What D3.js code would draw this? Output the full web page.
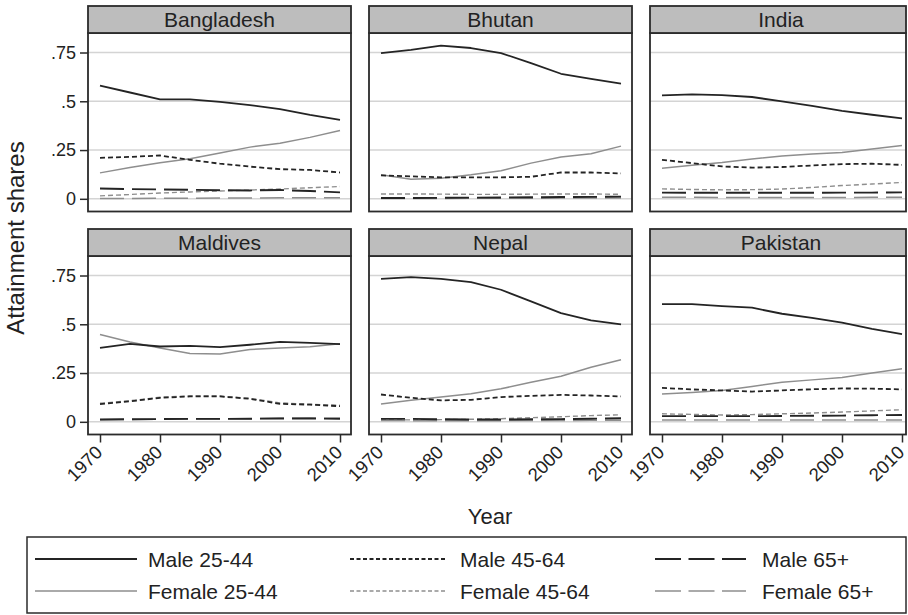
<!DOCTYPE html>
<html>
<head>
<meta charset="utf-8">
<script src="https://cdn.jsdelivr.net/npm/d3@7"></script>
<style>
  body { margin: 0; background: #fff; }
  svg { display: block; font-family: "Liberation Sans", Arial, sans-serif; }
</style>
</head>
<body>
<svg id="chart" width="908" height="615"></svg>
<script>
// Attainment shares by sex and age group, South Asian countries, 1970-2010
const years = [1970, 1975, 1980, 1985, 1990, 1995, 2000, 2005, 2010];
const countries = ["Bangladesh", "Bhutan", "India", "Maldives", "Nepal", "Pakistan"];
const seriesNames = ["Male 25-44", "Male 45-64", "Male 65+", "Female 25-44", "Female 45-64", "Female 65+"];
const xTicks = [1970, 1980, 1990, 2000, 2010];
const yTicks = [0, 0.25, 0.5, 0.75];
const yTickLabels = ["0", ".25", ".5", ".75"];

// one row per country, in the order of `countries`
const male2544 = [
  [0.580, 0.545, 0.510, 0.510, 0.497, 0.480, 0.460, 0.430, 0.405],
  [0.747, 0.764, 0.785, 0.773, 0.747, 0.696, 0.641, 0.615, 0.590],
  [0.530, 0.535, 0.532, 0.522, 0.499, 0.477, 0.451, 0.431, 0.412],
  [0.379, 0.400, 0.386, 0.389, 0.383, 0.395, 0.410, 0.405, 0.398],
  [0.733, 0.742, 0.733, 0.716, 0.677, 0.617, 0.557, 0.520, 0.500],
  [0.603, 0.603, 0.593, 0.585, 0.554, 0.533, 0.508, 0.477, 0.450]
];
const male4564 = [
  [0.210, 0.215, 0.222, 0.200, 0.180, 0.165, 0.152, 0.148, 0.135],
  [0.120, 0.115, 0.110, 0.110, 0.110, 0.113, 0.135, 0.135, 0.130],
  [0.200, 0.183, 0.166, 0.160, 0.163, 0.171, 0.178, 0.180, 0.174],
  [0.091, 0.105, 0.123, 0.130, 0.130, 0.118, 0.092, 0.088, 0.080],
  [0.140, 0.123, 0.110, 0.113, 0.127, 0.133, 0.138, 0.135, 0.130],
  [0.174, 0.166, 0.161, 0.155, 0.161, 0.167, 0.171, 0.170, 0.166]
];
const male65 = [
  [0.053, 0.050, 0.048, 0.046, 0.044, 0.043, 0.045, 0.040, 0.033],
  [0.004, 0.004, 0.005, 0.006, 0.007, 0.008, 0.009, 0.010, 0.011],
  [0.032, 0.031, 0.031, 0.031, 0.031, 0.031, 0.032, 0.032, 0.033],
  [0.012, 0.013, 0.014, 0.015, 0.015, 0.016, 0.017, 0.017, 0.016],
  [0.015, 0.015, 0.013, 0.012, 0.012, 0.013, 0.014, 0.016, 0.018],
  [0.029, 0.029, 0.029, 0.029, 0.030, 0.031, 0.032, 0.034, 0.035]
];
const female2544 = [
  [0.133, 0.160, 0.185, 0.205, 0.235, 0.265, 0.285, 0.315, 0.350],
  [0.123, 0.100, 0.106, 0.123, 0.144, 0.183, 0.214, 0.231, 0.270],
  [0.157, 0.172, 0.186, 0.204, 0.220, 0.230, 0.238, 0.255, 0.273],
  [0.448, 0.409, 0.378, 0.350, 0.348, 0.371, 0.378, 0.385, 0.400],
  [0.091, 0.110, 0.127, 0.144, 0.169, 0.203, 0.234, 0.280, 0.318],
  [0.142, 0.150, 0.161, 0.181, 0.203, 0.215, 0.227, 0.250, 0.272]
];
const female4564 = [
  [0.015, 0.022, 0.030, 0.035, 0.040, 0.045, 0.050, 0.057, 0.063],
  [0.025, 0.025, 0.024, 0.023, 0.023, 0.024, 0.025, 0.025, 0.023],
  [0.051, 0.048, 0.046, 0.047, 0.050, 0.058, 0.068, 0.076, 0.084],
  [0.095, 0.108, 0.126, 0.133, 0.132, 0.120, 0.097, 0.090, 0.085],
  [0.010, 0.010, 0.011, 0.013, 0.016, 0.021, 0.026, 0.032, 0.036],
  [0.041, 0.038, 0.035, 0.037, 0.041, 0.045, 0.050, 0.056, 0.062]
];
const female65 = [
  [0.002, 0.002, 0.003, 0.003, 0.004, 0.004, 0.005, 0.005, 0.006],
  [0.002, 0.002, 0.002, 0.003, 0.003, 0.003, 0.004, 0.004, 0.004],
  [0.008, 0.008, 0.007, 0.007, 0.007, 0.007, 0.007, 0.008, 0.008],
  [0.011, 0.012, 0.013, 0.014, 0.015, 0.016, 0.018, 0.019, 0.018],
  [0.007, 0.006, 0.006, 0.006, 0.006, 0.007, 0.007, 0.008, 0.008],
  [0.009, 0.009, 0.009, 0.009, 0.009, 0.009, 0.009, 0.009, 0.009]
];

const seriesValues = [male2544, male4564, male65, female2544, female4564, female65];

// line styles: dark for men, grey for women; solid / short dash / long dash by age
const MALE = "#242424", FEMALE = "#8e8e8e";
const seriesStyle = [
  { color: MALE,   width: 1.8, dash: null,   legendDash: null },
  { color: MALE,   width: 1.8, dash: "5,3",  legendDash: "4,2.5" },
  { color: MALE,   width: 1.9, dash: "24,8", legendDash: "26,7.5" },
  { color: FEMALE, width: 1.5, dash: null,   legendDash: null },
  { color: FEMALE, width: 1.4, dash: "5,3",  legendDash: "4,2.5" },
  { color: FEMALE, width: 1.5, dash: "24,8", legendDash: "26,7.5" }
];

const svg = d3.select("#chart");

// facet geometry
const colLeft = [88, 369, 650];
const colWidth = [263, 263, 256];
const rowTop = [6, 229];
const headerH = 27;
const plotH = 178.5;
const border = "#2b2b2b";

const yDomain = [-0.065, 0.85];

countries.forEach((country, ci) => {
  const col = ci % 3, row = Math.floor(ci / 3);
  const left = colLeft[col], w = colWidth[col];
  const top = rowTop[row];
  const plotTop = top + headerH, plotBottom = plotTop + plotH;

  const x = d3.scaleLinear().domain([1970, 2010]).range([left + 12, left + 252]);
  const y = d3.scaleLinear().domain(yDomain).range([plotBottom, plotTop]);

  const g = svg.append("g").attr("class", "facet");

  // plot region
  g.append("rect")
    .attr("x", left).attr("y", plotTop).attr("width", w).attr("height", plotH)
    .attr("fill", "#fff");

  // horizontal grid
  g.selectAll("line.grid").data(yTicks).join("line")
    .attr("class", "grid")
    .attr("x1", left).attr("x2", left + w)
    .attr("y1", d => y(d)).attr("y2", d => y(d))
    .attr("stroke", "#d4d4d4").attr("stroke-width", 1.4);

  // series lines (female drawn first so male lines sit on top)
  const line = d3.line().x((d, i) => x(years[i])).y(d => y(d));
  const order = [3, 4, 5, 0, 1, 2];
  order.forEach(si => {
    const st = seriesStyle[si];
    g.append("path")
      .datum(seriesValues[si][ci])
      .attr("d", line)
      .attr("fill", "none")
      .attr("stroke", st.color)
      .attr("stroke-width", st.width)
      .attr("stroke-dasharray", st.dash)
      .attr("stroke-linejoin", "round");
  });

  // plot border
  g.append("rect")
    .attr("x", left).attr("y", plotTop).attr("width", w).attr("height", plotH)
    .attr("fill", "none").attr("stroke", border).attr("stroke-width", 1.8);

  // strip header
  g.append("rect")
    .attr("x", left).attr("y", top).attr("width", w).attr("height", headerH)
    .attr("fill", "#bdbdbd").attr("stroke", border).attr("stroke-width", 1.8);
  g.append("text")
    .attr("x", left + w / 2 + (col === 2 ? 3 : 0)).attr("y", top + headerH / 2)
    .attr("dy", "0.36em")
    .attr("text-anchor", "middle")
    .attr("font-size", 21).attr("fill", "#222")
    .text(country);

  // y axis on the left column
  if (col === 0) {
    const ya = g.append("g")
      .attr("transform", `translate(${left},0)`)
      .call(d3.axisLeft(y).tickValues(yTicks)
        .tickFormat((d, i) => yTickLabels[i]).tickSize(8).tickPadding(4));
    ya.select(".domain").remove();
    ya.selectAll(".tick line").attr("stroke", border).attr("stroke-width", 1.5);
    ya.selectAll(".tick text").attr("font-size", 18).attr("fill", "#222")
      .attr("font-family", "Liberation Sans, Arial, sans-serif");
  }

  // x axis on the bottom row
  if (row === 1) {
    const xa = g.append("g")
      .attr("transform", `translate(0,${plotBottom})`)
      .call(d3.axisBottom(x).tickValues(xTicks).tickFormat(d3.format("d")).tickSize(8));
    xa.select(".domain").remove();
    xa.selectAll(".tick line").attr("stroke", border).attr("stroke-width", 1.5);
    xa.selectAll(".tick text")
      .attr("font-size", 18.5).attr("fill", "#222")
      .attr("font-family", "Liberation Sans, Arial, sans-serif")
      .attr("text-anchor", "end")
      .attr("dy", null)
      .attr("transform", "translate(3,19) rotate(-45)")
      .attr("x", 0).attr("y", 0);
  }
});

// axis titles
svg.append("text")
  .attr("transform", "translate(24,238) rotate(-90)")
  .attr("text-anchor", "middle")
  .attr("font-size", 24).attr("fill", "#222")
  .text("Attainment shares");

svg.append("text")
  .attr("x", 490).attr("y", 524)
  .attr("text-anchor", "middle")
  .attr("font-size", 22).attr("fill", "#222")
  .text("Year");

// legend
const legendBox = { x: 27, y: 537, w: 879, h: 76 };
svg.append("rect")
  .attr("x", legendBox.x).attr("y", legendBox.y)
  .attr("width", legendBox.w).attr("height", legendBox.h)
  .attr("fill", "#fff").attr("stroke", border).attr("stroke-width", 1.5);

const legendCols = [{ x1: 35, x2: 137, tx: 148 }, { x1: 350, x2: 447, tx: 460 }, { x1: 655, x2: 746, tx: 762 }];
const legendRows = [559, 591];
const leg = svg.append("g").attr("class", "legend");
seriesNames.forEach((name, si) => {
  const c = legendCols[si % 3], ry = legendRows[Math.floor(si / 3)];
  const st = seriesStyle[si];
  leg.append("line")
    .attr("x1", c.x1).attr("x2", c.x2).attr("y1", ry).attr("y2", ry)
    .attr("stroke", st.color).attr("stroke-width", st.width)
    .attr("stroke-dasharray", st.legendDash);
  leg.append("text")
    .attr("x", c.tx).attr("y", ry).attr("dy", "0.36em")
    .attr("font-size", 21).attr("fill", "#222")
    .text(name);
});
</script>
</body>
</html>
